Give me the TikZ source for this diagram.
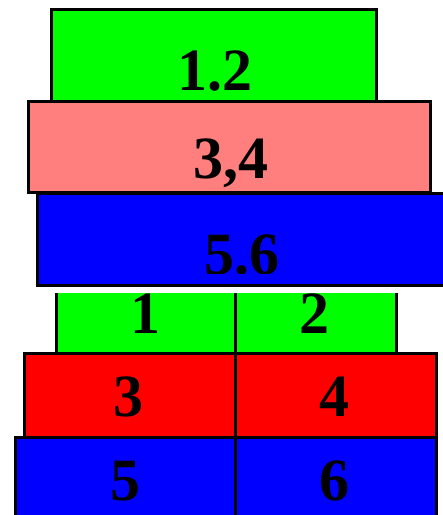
\documentclass[tikz,border=0pt]{standalone}
\usepackage{fontspec}
\setmainfont{Liberation Serif}
\definecolor{lgreen}{RGB}{0,255,0}
\definecolor{lpink}{RGB}{255,127,127}
\definecolor{lred}{RGB}{255,0,0}
\definecolor{lblue}{RGB}{0,0,255}
\tikzset{
  box/.style={draw=black,line width=3pt},
  digit/.style={font=\fontsize{60}{66}\selectfont\bfseries,anchor=base,inner sep=0pt},
}
\begin{document}
\begin{tikzpicture}[x=1pt,y=-1pt]
\useasboundingbox (0,0) rectangle (443,515);
% upper stack
\draw[box,fill=lgreen] (51,9) rectangle (376,101);
\node[digit] (n12) at (215,90) {1.2};
\draw[box,fill=lpink] (28,101) rectangle (430,192);
\node[digit] (n34) at (231,178) {3,4};
\draw[box,fill=lblue] (37,193) rectangle (450,285);
\begin{scope}
\clip (37,193) rectangle (443,273);
\node[digit] (n56) at (242,274) {5.6};
\end{scope}
% lower stack
\fill[lgreen] (56,293) rectangle (396,353);
\draw[box] (56,293) -- (56,353) -- (396,353) -- (396,293);
\draw[box,fill=lred] (24,353) rectangle (436,437);
\draw[box,fill=lblue] (15,437) rectangle (436,520);
\draw[box] (235,293) -- (235,520);
\node[digit] (n1) at (145,333) {1};
\node[digit] (n2) at (314,333) {2};
\node[digit] (n3) at (128,416) {3};
\node[digit] (n4) at (334,416) {4};
\node[digit] (n5) at (125,500) {5};
\node[digit] (n6) at (334,500) {6};
\end{tikzpicture}
\end{document}
